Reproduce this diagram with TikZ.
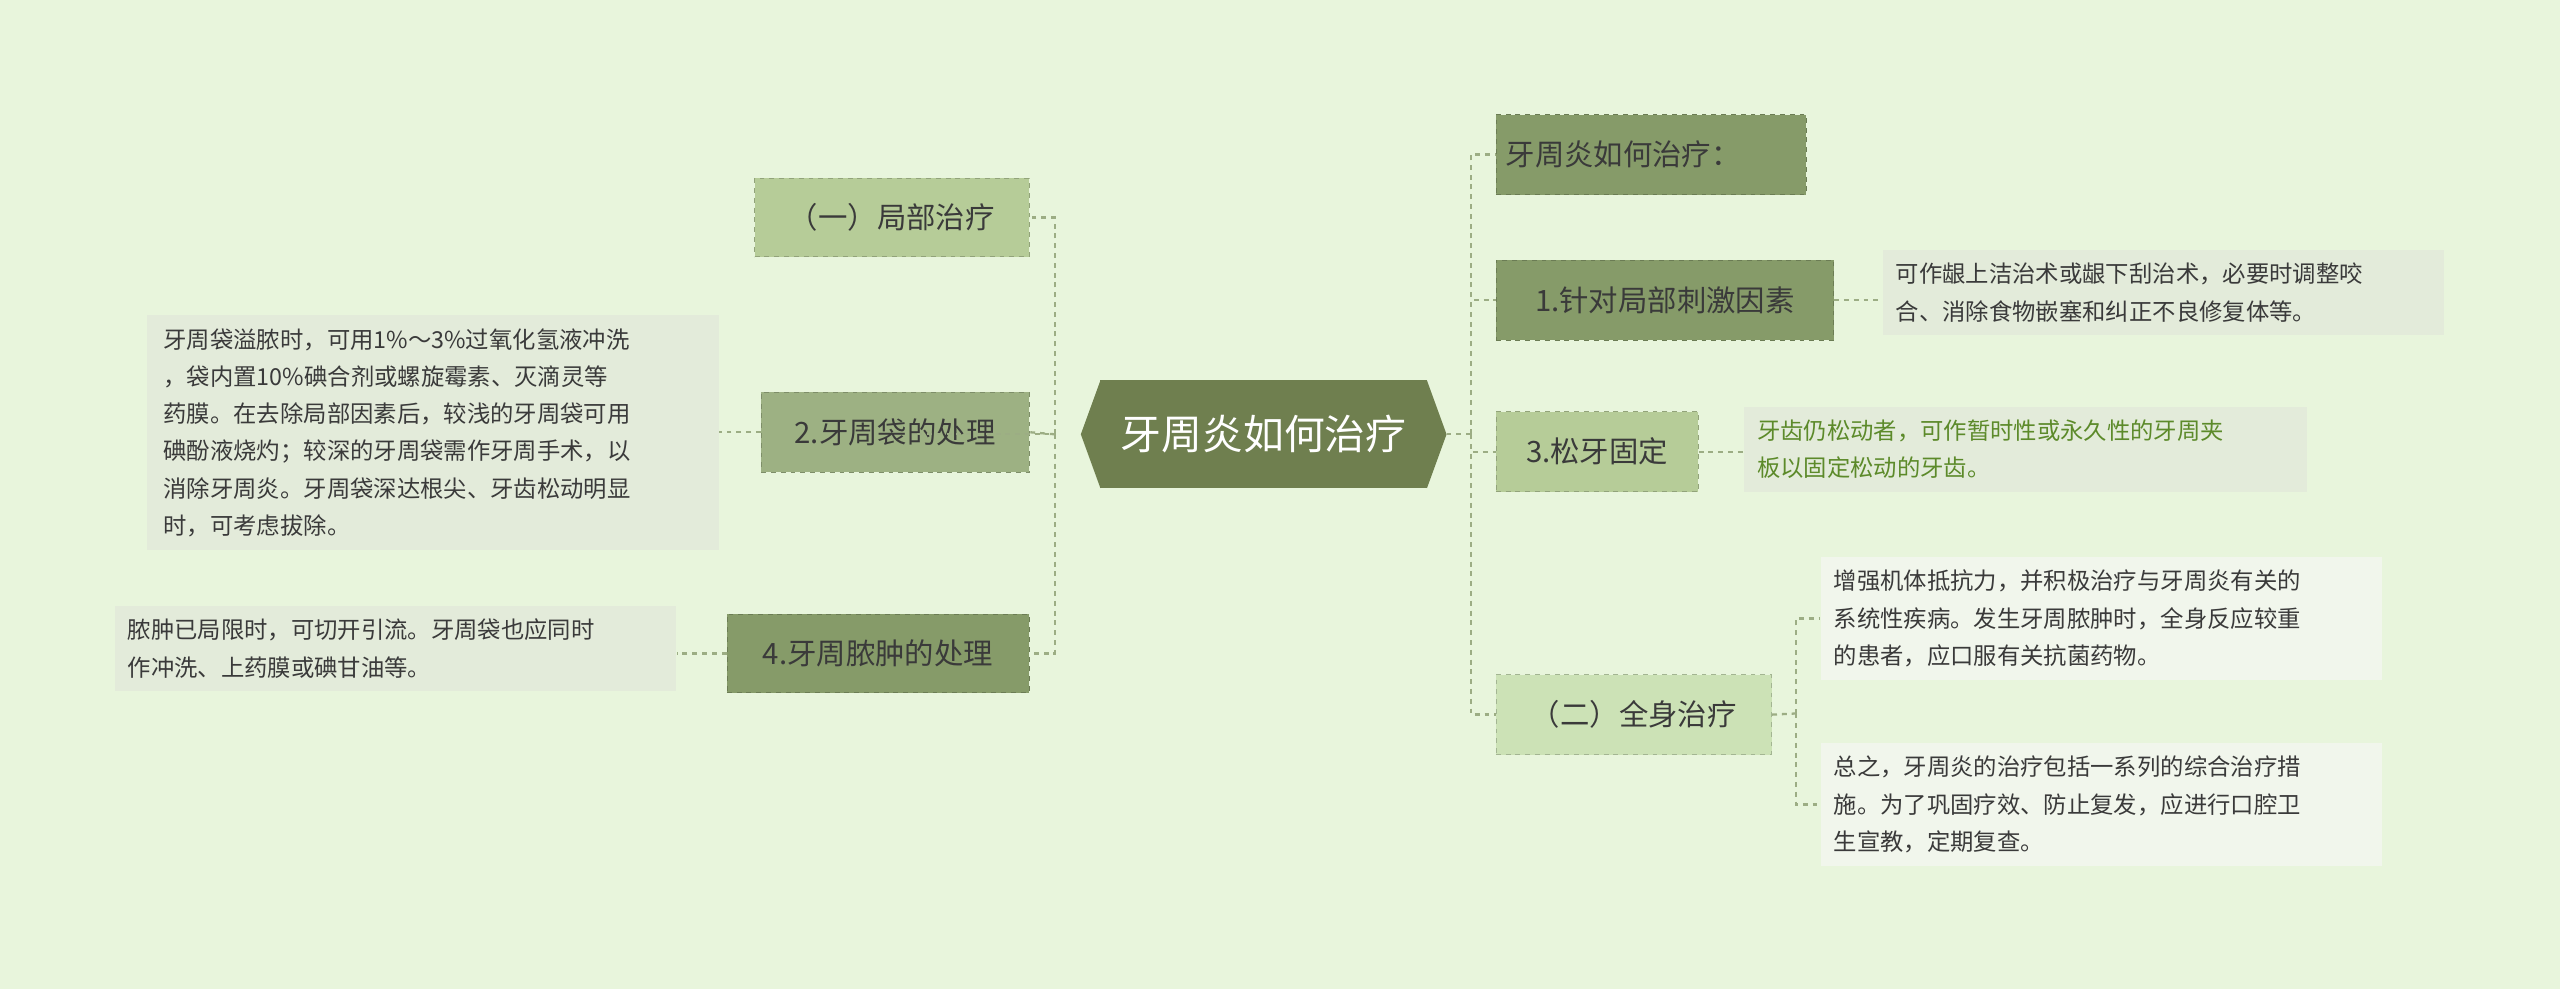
\documentclass[tikz,border=0pt]{standalone}
\usepackage{fontspec}
\setmainfont{Noto Sans CJK SC}
\definecolor{bg}{HTML}{E8F5DC}
\definecolor{ctr}{HTML}{6F7F4F}
\definecolor{dk}{HTML}{869B69}
\definecolor{md}{HTML}{9DB183}
\definecolor{lt}{HTML}{B6CC98}
\definecolor{vl}{HTML}{CCE2B6}
\definecolor{tb}{HTML}{E3EBDA}
\definecolor{tw}{HTML}{F1F6EC}
\definecolor{ln}{HTML}{9CAD84}
\definecolor{txt}{HTML}{3A3A3A}
\definecolor{gtxt}{HTML}{5C8A2A}
\begin{document}
\begin{tikzpicture}[x=1pt,y=-1pt,
  cat/.style={draw=#1!80!black, dashed, fill=#1, anchor=north west, inner sep=0pt, font=\fontsize{18}{20}\selectfont, text=txt},
  para/.style={fill=#1, anchor=north west, inner sep=8pt, align=left, font=\fontsize{14.3}{22.8}\selectfont, text=txt},
  con/.style={draw=ln, dashed, line width=1.4pt}]
\fill[bg] (0,0) rectangle (1568,606);
\useasboundingbox (0,0) rectangle (1568,606);
% center
\node[fill=ctr, text=white, font=\fontsize{25}{28}\selectfont, minimum width=200pt, minimum height=66pt, inner sep=0pt] (c) at (774,266) {牙周炎如何治疗};
\fill[ctr] (674,233) -- (662,266) -- (674,299) -- cycle;
\fill[ctr] (874,233) -- (886,266) -- (874,299) -- cycle;
% left categories
\node[cat=lt, minimum width=168pt, minimum height=48pt] (l1) at (462,109) {（一）局部治疗};
\node[cat=md, minimum width=164pt, minimum height=49pt] (l2) at (466,240) {2.牙周袋的处理};
\node[cat=dk, minimum width=185pt, minimum height=48pt] (l4) at (445,376) {4.牙周脓肿的处理};
\node[para=tb, text width=330pt, inner xsep=10pt] (p2) at (90,193) {牙周袋溢脓时，可用1\%～3\%过氧化氢液冲洗\\，袋内置10\%碘合剂或螺旋霉素、灭滴灵等\\药膜。在去除局部因素后，较浅的牙周袋可用\\碘酚液烧灼；较深的牙周袋需作牙周手术，以\\消除牙周炎。牙周袋深达根尖、牙齿松动明显\\时，可考虑拔除。};
\node[para=tb, text width=328pt] (p4) at (70,371) {脓肿已局限时，可切开引流。牙周袋也应同时\\作冲洗、上药膜或碘甘油等。};
% right categories
\node[cat=dk, minimum width=190pt, minimum height=49pt, text width=178pt, align=left] (r0) at (916,70) {牙周炎如何治疗：};
\node[cat=dk, minimum width=207pt, minimum height=49pt] (r1) at (916,159) {1.针对局部刺激因素};
\node[cat=lt, minimum width=124pt, minimum height=49pt] (r3) at (916,252) {3.松牙固定};
\node[cat=vl, minimum width=169pt, minimum height=49pt] (r2) at (916,413) {（二）全身治疗};
\node[para=tb, text width=328pt] (q1) at (1153,153) {可作龈上洁治术或龈下刮治术，必要时调整咬\\合、消除食物嵌塞和纠正不良修复体等。};
\node[para=tb, text width=329pt, text=gtxt] (q3) at (1068,249) {牙齿仍松动者，可作暂时性或永久性的牙周夹\\板以固定松动的牙齿。};
\node[para=tw, text width=328pt] (q2a) at (1115,341) {增强机体抵抗力，并积极治疗与牙周炎有关的\\系统性疾病。发生牙周脓肿时，全身反应较重\\的患者，应口服有关抗菌药物。};
\node[para=tw, text width=328pt] (q2b) at (1115,455) {总之，牙周炎的治疗包括一系列的综合治疗措\\施。为了巩固疗效、防止复发，应进行口腔卫\\生宣教，定期复查。};
% connectors left
\coordinate (lt) at (646,266);
\draw[con] (c.west) ++(-112,0) -- (lt);
\draw[con] (lt) |- (l1.east);
\draw[con] (lt) -- (l2.east);
\draw[con] (lt) |- (l4.east);
\draw[con] (l2.west) -- (p2.east |- l2.west);
\draw[con] (l4.west) -- (p4.east |- l4.west);
% connectors right
\coordinate (rt) at (901,266);
\draw[con] (886,266) -- (rt);
\draw[con] (rt) |- (r0.west);
\draw[con] (rt) |- (r1.west);
\draw[con] (rt) |- (r3.west);
\draw[con] (rt) |- (r2.west);
\draw[con] (r1.east) -- (q1.west |- r1.east);
\draw[con] (r3.east) -- (q3.west |- r3.east);
\coordinate (rt2) at (1100,437);
\draw[con] (r2.east) -- (rt2);
\draw[con] (rt2) |- (q2a.west);
\draw[con] (rt2) |- (q2b.west);
\end{tikzpicture}
\end{document}
